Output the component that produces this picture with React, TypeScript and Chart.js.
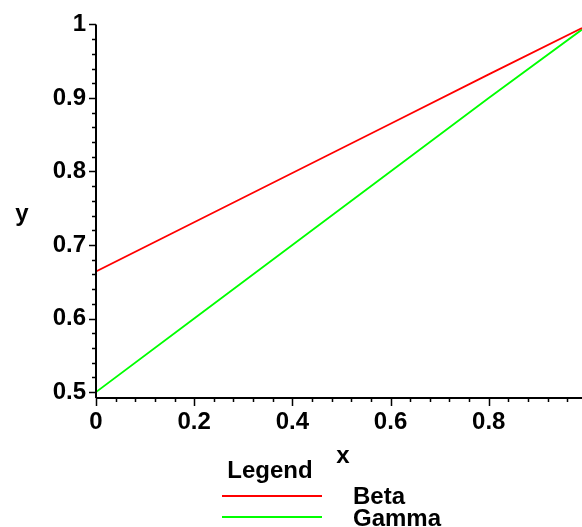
import React, { useEffect, useRef } from "react";
import { Chart, registerables } from "chart.js";

Chart.register(...registerables);

const xValues = [0, 0.2, 0.4, 0.6, 0.8, 0.99];
const betaValues = [0.664, 0.731, 0.798, 0.865, 0.932, 0.995];
const gammaValues = [0.5, 0.6, 0.7, 0.8, 0.9, 0.993];
const xTickLabels = [0, 0.2, 0.4, 0.6, 0.8];
const yTickLabels = [0.5, 0.6, 0.7, 0.8, 0.9, 1];
const seriesNames = ["Beta", "Gamma"];
const seriesColors = ["rgb(255,0,0)", "rgb(0,255,0)"];

const FONT = '"Liberation Sans", Arial, sans-serif';

const maplePlugin = {
  id: "maple",
  afterDraw(chart: any) {
    const ctx = chart.ctx;
    const xs = chart.scales.x;
    const ys = chart.scales.y;
    const { left, right, top, bottom } = chart.chartArea;
    ctx.save();
    ctx.strokeStyle = "#000";
    ctx.lineWidth = 2;
    ctx.beginPath();
    ctx.moveTo(left, top);
    ctx.lineTo(left, bottom);
    ctx.moveTo(left, bottom);
    ctx.lineTo(right, bottom);
    ctx.stroke();
    // y ticks: minor every 0.02, major every 0.1
    ctx.lineWidth = 1.5;
    ctx.beginPath();
    for (let i = Math.ceil(ys.min / 0.02); i * 0.02 <= ys.max + 1e-9; i++) {
      const v = i * 0.02;
      const p = Math.round(ys.getPixelForValue(v)) + 0.5;
      const major = i % 5 === 0;
      ctx.moveTo(left - (major ? 7 : 4), p);
      ctx.lineTo(left, p);
    }
    for (let i = 0; i * 0.04 <= xs.max + 1e-9; i++) {
      const v = i * 0.04;
      const p = Math.round(xs.getPixelForValue(v)) + 0.5;
      const major = i % 5 === 0;
      ctx.moveTo(p, bottom);
      ctx.lineTo(p, bottom + (major ? 8 : 4));
    }
    ctx.stroke();

    ctx.fillStyle = "#000";
    ctx.font = `bold 24px ${FONT}`;
    ctx.textBaseline = "alphabetic";
    ctx.textAlign = "center";
    ctx.fillText("y", 22, 221);
    ctx.fillText("x", 343, 463);
    ctx.fillText("Legend", 270, 478);

    const ds = chart.data.datasets;
    ds.forEach((d: any, i: number) => {
      const ly = 496 + i * 21;
      ctx.strokeStyle = d.borderColor;
      ctx.lineWidth = 2;
      ctx.beginPath();
      ctx.moveTo(222, ly);
      ctx.lineTo(322, ly);
      ctx.stroke();
      ctx.textAlign = "left";
      ctx.fillStyle = "#000";
      ctx.fillText(d.label, 353, 504 + i * 22);
    });
    ctx.restore();
  },
};

export default function App() {
  const ref = useRef<HTMLCanvasElement | null>(null);
  useEffect(() => {
    if (!ref.current) return;
    const chart = new Chart(ref.current, {
      type: "line",
      data: {
        datasets: seriesNames.map((name, i) => ({
          label: name,
          data: xValues.map((x, j) => ({ x, y: (i === 0 ? betaValues : gammaValues)[j] })),
          borderColor: seriesColors[i],
          backgroundColor: seriesColors[i],
          borderWidth: 1.8,
          pointRadius: 0,
          tension: 0,
          fill: false,
        })),
      },
      options: {
        animation: false,
        responsive: false,
        layout: { padding: { top: 23, right: 0, left: 0, bottom: 89 } },
        plugins: { legend: { display: false }, tooltip: { enabled: false } },
        scales: {
          x: {
            type: "linear",
            min: 0,
            max: 0.99,
            grid: { display: false, drawTicks: false },
            border: { display: false },
            afterFit: (s: any) => { s.height = 40; },
            afterBuildTicks: (s: any) => { s.ticks = xTickLabels.map((v) => ({ value: v })); },
            ticks: {
              padding: 10,
              color: "#000",
              font: { family: FONT, size: 24, weight: "bold" },
              maxRotation: 0,
              autoSkip: false,
              callback: (v: any) => String(Number(Number(v).toFixed(1))),
            },
          },
          y: {
            type: "linear",
            min: 0.492,
            max: 1,
            grid: { display: false, drawTicks: false },
            border: { display: false },
            afterFit: (s: any) => { s.width = 96; },
            afterBuildTicks: (s: any) => { s.ticks = yTickLabels.map((v) => ({ value: v })); },
            ticks: {
              padding: 10,
              color: "#000",
              font: { family: FONT, size: 24, weight: "bold" },
              autoSkip: false,
              callback: (v: any) => String(Number(Number(v).toFixed(1))),
            },
          },
        },
      },
      plugins: [maplePlugin],
    });
    return () => chart.destroy();
  }, []);
  return (
    <div style={{ position: "absolute", left: 0, top: 0, width: 582, height: 527, background: "#fff" }}>
      <canvas ref={ref} width={582} height={527} />
    </div>
  );
}
